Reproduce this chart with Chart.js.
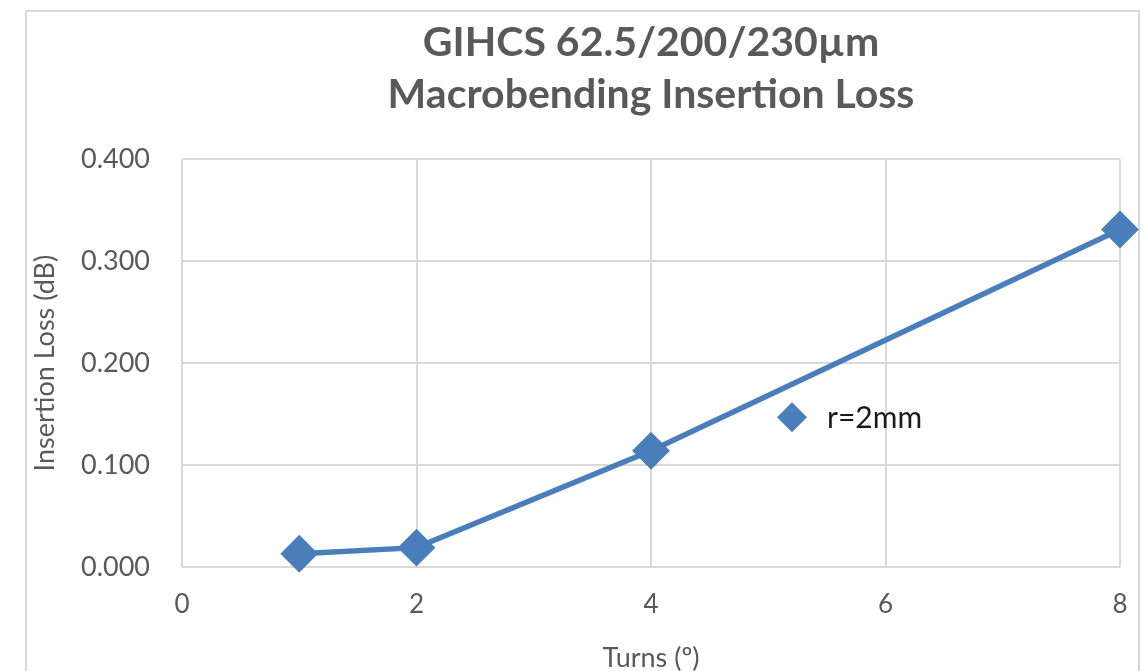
<!DOCTYPE html>
<html>
<head>
<meta charset="utf-8">
<script src="https://cdn.jsdelivr.net/npm/chart.js@4/dist/chart.umd.min.js"></script>
<style>
  html, body { margin: 0; padding: 0; background: #fff; }
  canvas { display: block; }
</style>
</head>
<body>
<canvas id="lossChart" width="1146" height="671"></canvas>
<script>
// Data
const turns = [1, 2, 4, 8];
const lossDb = [0.013, 0.019, 0.114, 0.331];
const seriesName = "r=2mm";
const titleLines = ["GIHCS 62.5/200/230µm", "Macrobending Insertion Loss"];

const FONT = "Lato, 'Open Sans', sans-serif";
const GREY = "#595959";
const GRID = "#d9d9d9";
const BLUE = "#4a7ebb";

// Outer chart frame (like the Excel chart border)
const framePlugin = {
  id: "frame",
  beforeDraw(chart) {
    const ctx = chart.ctx;
    ctx.save();
    ctx.strokeStyle = GRID;
    ctx.lineWidth = 2;
    ctx.strokeRect(26, 11, 1113, 700);
    ctx.restore();
  },
};

// Legend drawn inside the plot area
const innerLegend = {
  id: "innerLegend",
  afterDraw(chart) {
    const ctx = chart.ctx;
    const area = chart.chartArea;
    const x = area.left + 610;
    const y = area.top + 258;
    ctx.save();
    ctx.fillStyle = BLUE;
    ctx.beginPath();
    ctx.moveTo(x, y - 15);
    ctx.lineTo(x + 15, y);
    ctx.lineTo(x, y + 15);
    ctx.lineTo(x - 15, y);
    ctx.closePath();
    ctx.fill();
    ctx.fillStyle = "#1a1a1a";
    ctx.font = "30px " + FONT;
    ctx.textBaseline = "middle";
    ctx.fillText(seriesName, x + 35, y + 1);
    ctx.restore();
  },
};

new Chart(document.getElementById("lossChart"), {
  type: "scatter",
  data: {
    datasets: [
      {
        label: seriesName,
        data: turns.map((t, i) => ({ x: t, y: lossDb[i] })),
        showLine: true,
        clip: false,
        borderColor: BLUE,
        backgroundColor: BLUE,
        borderWidth: 5.5,
        pointStyle: "rectRot",
        pointRadius: 15,
        pointHoverRadius: 15,
      },
    ],
  },
  options: {
    responsive: false,
    animation: false,
    layout: { padding: { left: 29, right: 26, top: 12, bottom: 0 } },
    plugins: {
      legend: { display: false },
      tooltip: { enabled: false },
      title: {
        display: true,
        fullSize: false,
        text: titleLines,
        color: GREY,
        font: { family: FONT, size: 41, weight: "bold", lineHeight: 1.27 },
        padding: { top: 5, bottom: 38 },
      },
    },
    scales: {
      x: {
        type: "linear",
        min: 0,
        max: 8,
        afterFit: (scale) => {
          scale.height = 104;
          scale.paddingLeft = 0;
          scale.paddingRight = 0;
        },
        ticks: { stepSize: 2, color: GREY, font: { family: FONT, size: 26 }, padding: 22 },
        grid: { color: GRID, lineWidth: 2, drawTicks: false },
        border: { display: false },
        title: {
          display: true,
          text: "Turns (º)",
          color: GREY,
          font: { family: FONT, size: 27 },
          padding: { top: 0, bottom: -3 },
        },
      },
      y: {
        min: 0,
        max: 0.4,
        afterFit: (scale) => { scale.width = 153; },
        ticks: {
          stepSize: 0.1,
          color: GREY,
          font: { family: FONT, size: 27 },
          padding: 32,
          callback: (v) => v.toFixed(3),
        },
        grid: { color: GRID, lineWidth: 2, drawTicks: false },
        border: { display: false },
        title: {
          display: true,
          text: "Insertion Loss (dB)",
          color: GREY,
          font: { family: FONT, size: 27 },
          padding: { top: 0, bottom: 0 },
        },
      },
    },
  },
  plugins: [framePlugin, innerLegend],
});
</script>
</body>
</html>
